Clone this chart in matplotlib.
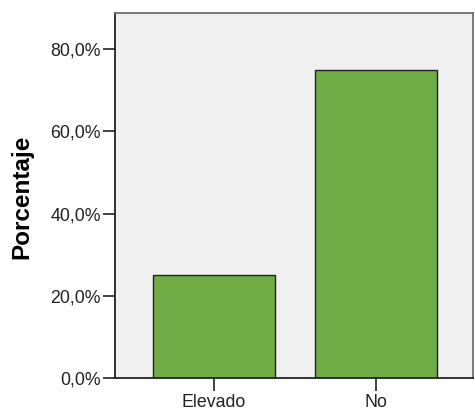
import matplotlib
matplotlib.use("Agg")
import matplotlib.pyplot as plt
from matplotlib.ticker import FuncFormatter

categorias = ["Elevado", "No"]
porcentajes = [25.0, 75.0]
yticks = [0, 20, 40, 60, 80]

plt.rcParams['font.family'] = ['Liberation Sans', 'DejaVu Sans']

fig = plt.figure(figsize=(4.75, 4.11), dpi=100)
ax = fig.add_axes([0.242, 0.080, 0.754, 0.888])
ax.set_facecolor("#F0F0F0")

ax.bar(range(len(categorias)), porcentajes, width=0.753, color="#70AD47",
       edgecolor="#222222", linewidth=1.0, zorder=2)

ax.set_xlim(-0.611, 1.599)
ax.set_ylim(0, 88.75)
ax.set_xticks(range(len(categorias)))
ax.set_xticklabels(categorias)
ax.set_yticks(yticks)
ax.yaxis.set_major_formatter(FuncFormatter(lambda v, p: ("%.1f%%" % v).replace(".", ",")))

ax.tick_params(axis="both", labelsize=12.8, labelcolor="#222222", color="#222222",
               length=9, width=1.2, pad=1)
ax.tick_params(axis="x", pad=2.5)

for s in ["left", "bottom"]:
    ax.spines[s].set_color("#222222")
    ax.spines[s].set_linewidth(1.3)
for s in ["top", "right"]:
    ax.spines[s].set_color("#707070")
    ax.spines[s].set_linewidth(1.3)

ax.set_ylabel("Porcentaje", fontsize=17.5, fontweight="bold")
ax.yaxis.set_label_coords(-0.229, 0.497)

fig.savefig("out.png", dpi=100)
